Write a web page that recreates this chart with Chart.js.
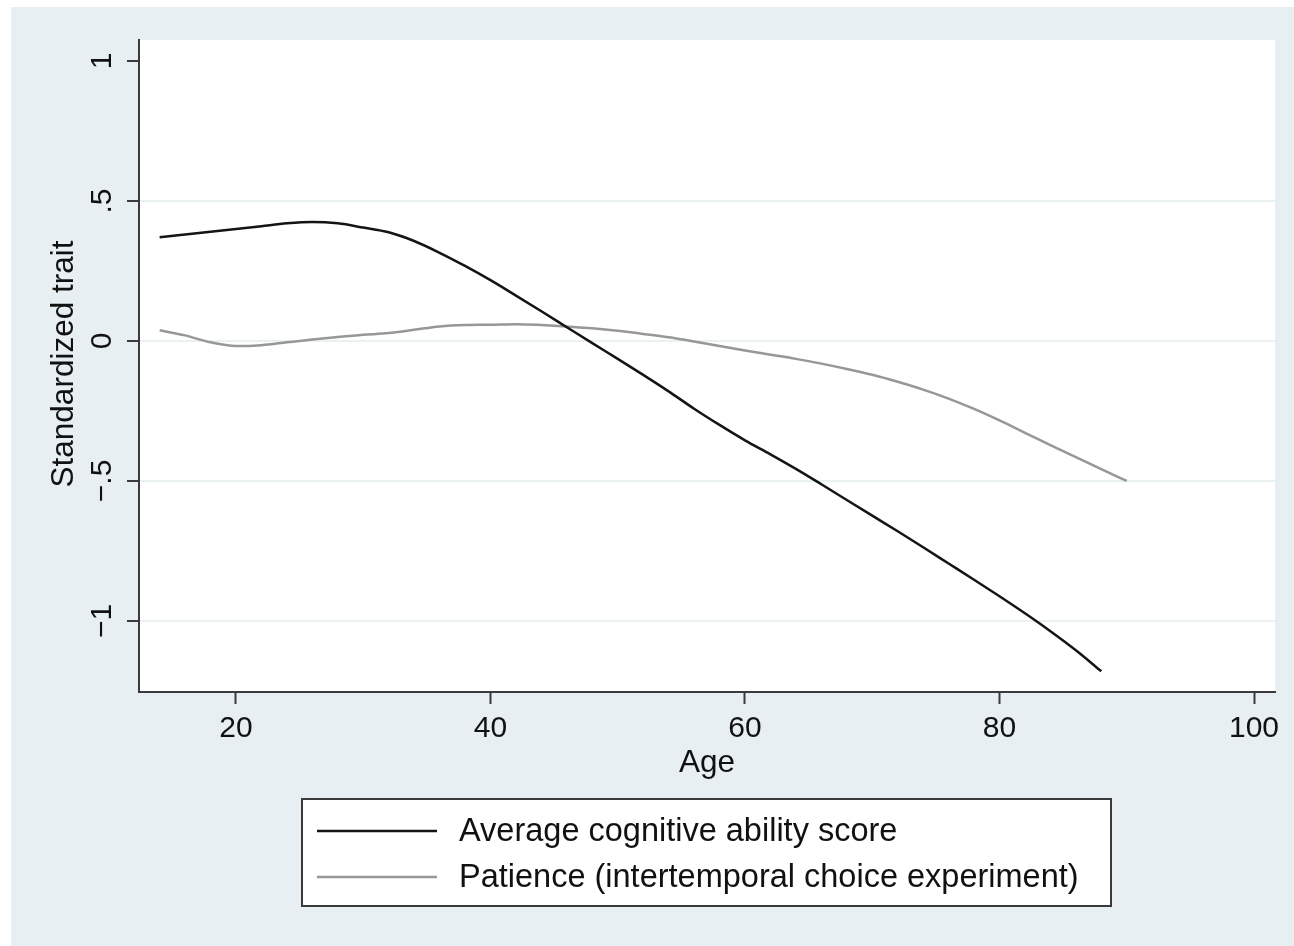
<!DOCTYPE html>
<html>
<head>
<meta charset="utf-8">
<script src="https://cdn.jsdelivr.net/npm/chart.js@4.4.1/dist/chart.umd.min.js"></script>
<style>
  html, body { margin: 0; padding: 0; background: #fff; }
  #wrap { width: 1294px; height: 946px; }
</style>
</head>
<body>
<div id="wrap"><canvas id="chart" width="1294" height="946"></canvas></div>
<script>
// values (age -> standardized trait)
const cogAges = [14, 16, 18, 20, 22, 24, 26, 28, 30, 32, 34, 36, 38, 40, 42, 44, 46, 48, 50, 52,
                 54, 56, 58, 60, 62, 64, 66, 68, 70, 72, 74, 76, 78, 80, 82, 84, 86, 88];
const cognitive = [0.37, 0.38, 0.39, 0.40, 0.41, 0.42, 0.425, 0.42, 0.405, 0.388, 0.357, 0.315, 0.268, 0.217, 0.162, 0.106, 0.049, -0.008, -0.064, -0.121,
                   -0.18, -0.242, -0.30, -0.355, -0.405, -0.457, -0.512, -0.568, -0.624, -0.68, -0.737, -0.795, -0.853, -0.912, -0.973, -1.037, -1.105, -1.18];

const patAges = [14, 16, 18, 20, 22, 24, 26, 28, 30, 32, 34, 36, 38, 40, 42, 44, 46, 48, 50, 52,
                 54, 56, 58, 60, 62, 64, 66, 68, 70, 72, 74, 76, 78, 80, 82, 84, 86, 88, 90];
const patience = [0.038, 0.02, -0.005, -0.018, -0.015, -0.005, 0.005, 0.014, 0.022, 0.028, 0.04, 0.052, 0.057, 0.058, 0.06, 0.057, 0.052, 0.045, 0.036, 0.025,
                  0.013, -0.002, -0.018, -0.034, -0.049, -0.064, -0.081, -0.10, -0.121, -0.146, -0.174, -0.206, -0.243, -0.284, -0.328, -0.372, -0.415, -0.458, -0.50];

const xTicks = [20, 40, 60, 80, 100];
const xTickLabels = ['20', '40', '60', '80', '100'];
const yTicks = [-1, -0.5, 0, 0.5, 1];
const yTickLabels = ['\u22121', '\u2212.5', '0', '.5', '1'];
const seriesNames = ['Average cognitive ability score', 'Patience (intertemporal choice experiment)'];

const FONT = '"Liberation Sans", Arial, Helvetica, sans-serif';
const BG = '#e8eff2';
const INK = '#111';

// backgrounds, tick labels, axis titles and the boxed legend (Stata look)
const stataLook = {
    id: 'stataLook',
    beforeDraw(chart) {
        const ctx = chart.ctx;
        const a = chart.chartArea;
        ctx.save();
        ctx.fillStyle = '#fff';
        ctx.fillRect(0, 0, chart.width, chart.height);
        ctx.fillStyle = BG;
        ctx.fillRect(11, 7, chart.width - 11, chart.height - 7);
        ctx.fillStyle = '#fff';
        ctx.fillRect(a.left, a.top, a.right - a.left, a.bottom - a.top);
        ctx.restore();
    },
    afterDraw(chart) {
        const ctx = chart.ctx;
        const xs = chart.scales.x;
        const ys = chart.scales.y;
        ctx.save();
        ctx.fillStyle = INK;
        ctx.font = '30px ' + FONT;

        // x tick labels
        ctx.textAlign = 'center';
        ctx.textBaseline = 'alphabetic';
        xTicks.forEach((v, i) => {
            ctx.fillText(xTickLabels[i], xs.getPixelForValue(v), 737);
        });

        // y tick labels, rotated
        yTicks.forEach((v, i) => {
            ctx.save();
            ctx.translate(111, ys.getPixelForValue(v));
            ctx.rotate(-Math.PI / 2);
            ctx.fillText(yTickLabels[i], 0, 0);
            ctx.restore();
        });

        // axis titles
        ctx.font = '31.5px ' + FONT;
        ctx.fillText('Age', (chart.chartArea.left + chart.chartArea.right) / 2, 772);
        ctx.save();
        ctx.translate(73, 364);
        ctx.rotate(-Math.PI / 2);
        ctx.fillText('Standardized trait', 0, 0);
        ctx.restore();

        // legend box
        ctx.fillStyle = '#fff';
        ctx.fillRect(302, 799, 809, 107);
        ctx.strokeStyle = '#3a3a3a';
        ctx.lineWidth = 2;
        ctx.strokeRect(302, 799, 809, 107);

        ctx.font = '32.5px ' + FONT;
        const rows = [831, 877];
        chart.data.datasets.forEach((ds, i) => {
            ctx.strokeStyle = ds.borderColor;
            ctx.lineWidth = ds.borderWidth;
            ctx.beginPath();
            ctx.moveTo(317, rows[i]);
            ctx.lineTo(437, rows[i]);
            ctx.stroke();
            ctx.fillStyle = INK;
            ctx.textAlign = 'left';
            ctx.fillText(ds.label, 459, rows[i] + 10);
        });
        ctx.restore();
    }
};

const ctx = document.getElementById('chart').getContext('2d');
const chart = new Chart(ctx, {
    type: 'line',
    data: {
        datasets: [{
            label: seriesNames[0],
            data: cogAges.map((a, i) => ({ x: a, y: cognitive[i] })),
            borderColor: '#141414',
            borderWidth: 2.5,
            pointRadius: 0,
            cubicInterpolationMode: 'monotone'
        }, {
            label: seriesNames[1],
            data: patAges.map((a, i) => ({ x: a, y: patience[i] })),
            borderColor: '#979797',
            borderWidth: 2.5,
            pointRadius: 0,
            cubicInterpolationMode: 'monotone'
        }]
    },
    options: {
        responsive: false,
        animation: false,
        layout: { padding: { left: 0, top: 40, right: 19, bottom: 0 } },
        plugins: {
            legend: { display: false },
            tooltip: { enabled: false }
        },
        scales: {
            x: {
                type: 'linear',
                min: 12.38,
                max: 101.65,
                afterBuildTicks: scale => { scale.ticks = xTicks.map(v => ({ value: v })); },
                afterFit: scale => { scale.height = 254; },
                ticks: { display: false },
                border: { color: '#3a3a3a', width: 2 },
                grid: {
                    drawOnChartArea: false,
                    drawTicks: true,
                    tickLength: 12,
                    tickColor: '#3a3a3a',
                    tickWidth: 2
                }
            },
            y: {
                type: 'linear',
                min: -1.254,
                max: 1.075,
                afterBuildTicks: scale => { scale.ticks = yTicks.map(v => ({ value: v })); },
                afterFit: scale => { scale.width = 139; },
                ticks: { display: false },
                border: { color: '#3a3a3a', width: 2 },
                grid: {
                    color: c => (c.tick && c.tick.value === 1) ? 'rgba(0,0,0,0)' : '#eaf1f3',
                    lineWidth: 2,
                    drawTicks: true,
                    tickLength: 12,
                    tickColor: '#3a3a3a',
                    tickWidth: 2
                }
            }
        }
    },
    plugins: [stataLook]
});
</script>
</body>
</html>
